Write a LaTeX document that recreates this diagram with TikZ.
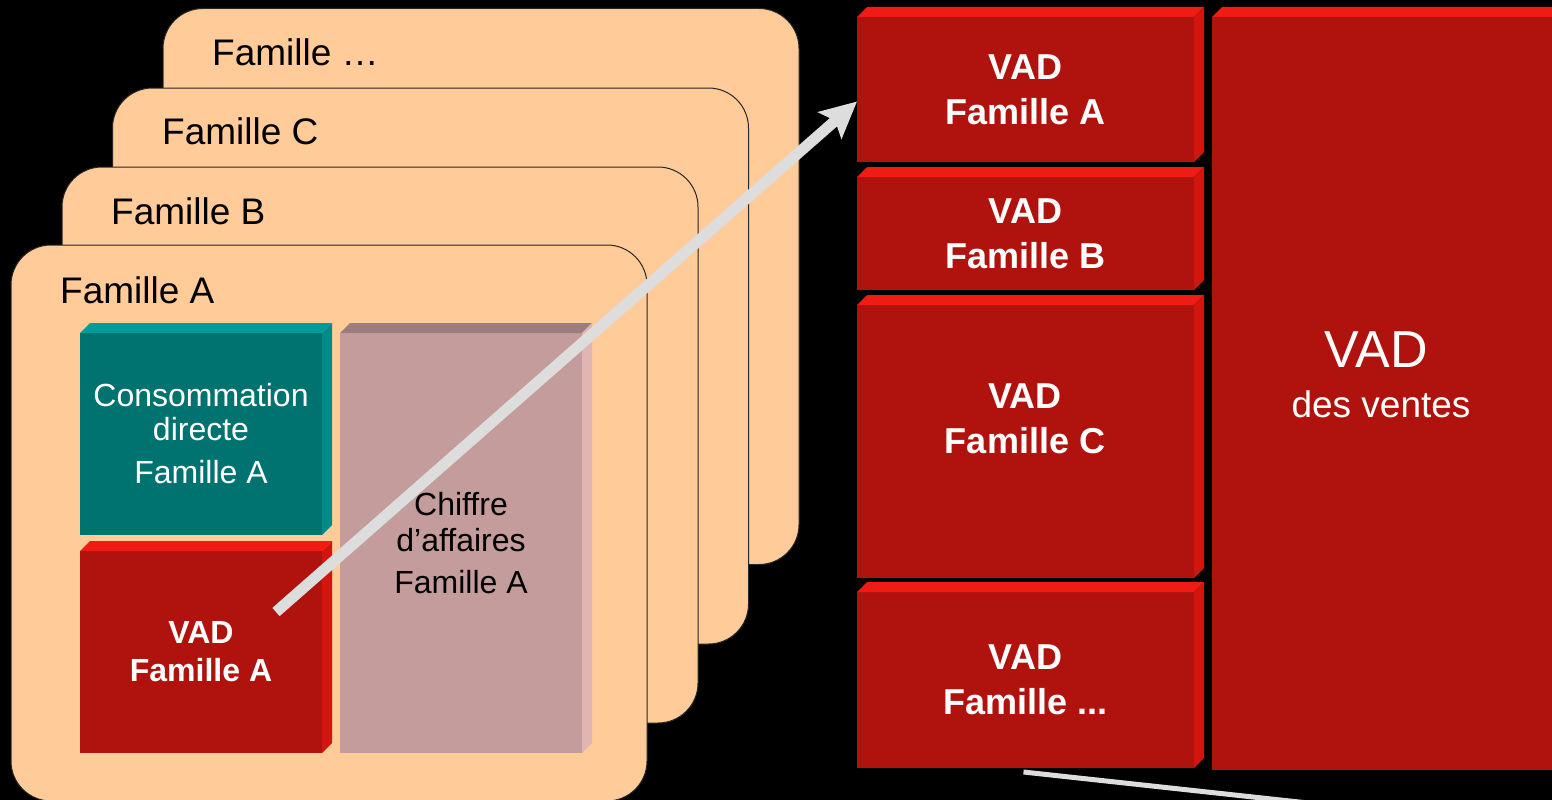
\documentclass[tikz,border=0pt]{standalone}
\usepackage{fontspec}
\setmainfont{Liberation Sans}
\usetikzlibrary{arrows.meta}
\definecolor{peach}{HTML}{FFCC99}
\definecolor{tealF}{HTML}{007370}
\definecolor{tealT}{HTML}{009C99}
\definecolor{tealS}{HTML}{008B89}
\definecolor{redF}{HTML}{B0130D}
\definecolor{redT}{HTML}{F01B12}
\definecolor{redS}{HTML}{D4150D}
\definecolor{mauF}{HTML}{C49C9C}
\definecolor{mauT}{HTML}{9C7D7D}
\definecolor{mauS}{HTML}{E2B5B5}
\definecolor{arrgray}{HTML}{DDDDDD}
\newcommand\mkbevel[3]{%
  \fill[#2] (#1.north west) -- ++(10,-10) -- ([shift={(10,-10)}]#1.north east) -- (#1.north east) -- cycle;
  \fill[#3] (#1.north east) -- ++(10,-10) -- ([shift={(10,-10)}]#1.south east) -- (#1.south east) -- cycle;}
\tikzset{
  card/.style={rectangle, rounded corners=40pt, fill=peach, draw=black!85, line width=1pt,
    minimum width=636pt, minimum height=556pt, inner sep=0pt, outer sep=0pt},
  famlabel/.style={anchor=west, inner sep=0pt, text=black, font=\fontsize{37}{44}\selectfont},
  box/.style={rectangle, inner sep=0pt, outer sep=0pt, draw=none, align=center},
  redbox/.style={box, fill=redF, text=white},
  arrowline/.style={draw=arrgray, line width=11pt, -{Stealth[length=36pt,width=35pt,inset=7pt]}},
  thinline/.style={draw=arrgray, line width=5pt}
}
\begin{document}
\begin{tikzpicture}[x=1pt,y=-1pt]
\clip (0,0) rectangle (1552,800);
\fill[black] (0,0) rectangle (1552,800);
% family cards
\node[card] (famD) at (481,286.5) {};
\node[famlabel] (labD) at (212,52) {Famille …};
\node[card] (famC) at (430.5,366) {};
\node[famlabel] (labC) at (162,131) {Famille C};
\node[card] (famB) at (380,445) {};
\node[famlabel] (labB) at (111,211) {Famille B};
\node[card] (famA) at (329,523) {};
\node[famlabel] (labA) at (60,290) {Famille A};
% inner boxes
\node[box, fill=tealF, text=white, minimum width=242pt, minimum height=202pt,
  font=\fontsize{32}{34}\selectfont] (cons) at (201,434) {Consommation\\directe\\[9pt]Famille A};
\mkbevel{cons}{tealT}{tealS}
\node[redbox, minimum width=242pt, minimum height=202pt,
  font=\bfseries\fontsize{32}{38}\selectfont] (vadS) at (201,652) {VAD\\Famille A};
\mkbevel{vadS}{redT}{redS}
\node[box, fill=mauF, text=black, minimum width=242pt, minimum height=420pt,
  font=\fontsize{32}{36}\selectfont] (ca) at (461,543) {Chiffre\\d’affaires\\[6pt]Famille A};
\mkbevel{ca}{mauT}{mauS}
% right column
\node[redbox, minimum width=337pt, minimum height=145pt,
  font=\bfseries\fontsize{36}{45}\selectfont] (vadR1) at (1025.5,89.5) {VAD\\Famille A};
\mkbevel{vadR1}{redT}{redS}
\node[redbox, minimum width=337pt, minimum height=113pt,
  font=\bfseries\fontsize{36}{45}\selectfont] (vadR2) at (1025.5,233.5) {VAD\\Famille B};
\mkbevel{vadR2}{redT}{redS}
\node[redbox, minimum width=337pt, minimum height=273pt] (vadR3) at (1025.5,441.5) {};
\mkbevel{vadR3}{redT}{redS}
\node[box, text=white, font=\bfseries\fontsize{36}{45}\selectfont] (vadR3t) at (1025,419) {VAD\\Famille C};
\node[redbox, minimum width=337pt, minimum height=176pt,
  font=\bfseries\fontsize{36}{45}\selectfont] (vadR4) at (1025.5,680) {VAD\\Famille ...};
\mkbevel{vadR4}{redT}{redS}
\node[redbox, minimum width=368pt, minimum height=753pt] (big) at (1396,393.5) {};
\mkbevel{big}{redT}{redS}
\node[box, text=white, font=\fontsize{52}{60}\selectfont] (bigT1) at (1376,350) {VAD};
\node[box, text=white, font=\fontsize{37}{44}\selectfont] (bigT2) at (1381,404) {des ventes};
% connectors
\coordinate (arrS) at (276,612);
\draw[arrowline] (arrS) -- ([yshift=-12pt]vadR1.west);
\coordinate (lineE) at (1400,813);
\draw[thinline] ([yshift=-4pt,xshift=-2pt]vadR4.south) -- (lineE);
\end{tikzpicture}
\end{document}
